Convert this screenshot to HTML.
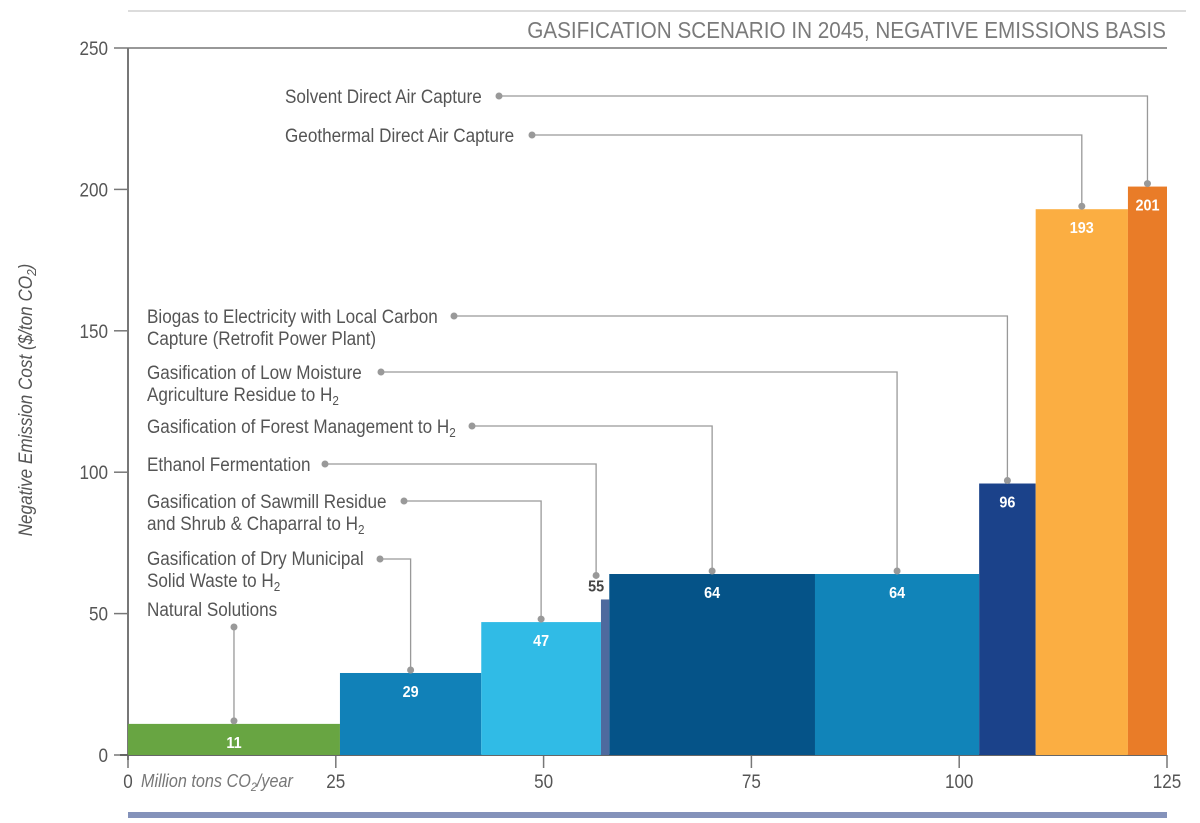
<!DOCTYPE html>
<html><head><meta charset="utf-8"><style>
html,body{margin:0;padding:0;background:#fff;}
svg text{font-family:"Liberation Sans Narrow","Liberation Sans",sans-serif;}
</style></head><body>
<svg id="chart" width="1200" height="818" xmlns="http://www.w3.org/2000/svg">
<line x1="128" y1="11" x2="1186" y2="11" stroke="#d0d0d0" stroke-width="1.5"/>
<text x="1166" y="38" text-anchor="end" font-size="23" fill="#7a7a7a">GASIFICATION SCENARIO IN 2045, NEGATIVE EMISSIONS BASIS</text>
<text transform="translate(32,400) rotate(-90)" text-anchor="middle" font-size="19" font-style="italic" fill="#555">Negative Emission Cost ($/ton CO<tspan font-size="13" dy="4">2</tspan><tspan dy="-4">)</tspan></text>
<g id="axes"></g>
<g id="bars"></g>
<g id="leaders"></g>
<g id="labels" font-size="19" fill="#555">
<text x="285" y="103">Solvent Direct Air Capture</text>
<text x="285" y="142">Geothermal Direct Air Capture</text>
<text x="147" y="323">Biogas to Electricity with Local Carbon</text>
<text x="147" y="345">Capture (Retrofit Power Plant)</text>
<text x="147" y="379">Gasification of Low Moisture</text>
<text x="147" y="401">Agriculture Residue to H<tspan font-size="13" dy="4">2</tspan></text>
<text x="147" y="433">Gasification of Forest Management to H<tspan font-size="13" dy="4">2</tspan></text>
<text x="147" y="471">Ethanol Fermentation</text>
<text x="147" y="508">Gasification of Sawmill Residue</text>
<text x="147" y="530">and Shrub &amp; Chaparral to H<tspan font-size="13" dy="4">2</tspan></text>
<text x="147" y="565">Gasification of Dry Municipal</text>
<text x="147" y="587">Solid Waste to H<tspan font-size="13" dy="4">2</tspan></text>
<text x="147" y="616">Natural Solutions</text>
</g>
<text x="141" y="787" font-size="18" font-style="italic" fill="#777">Million tons CO<tspan font-size="12" dy="4">2</tspan><tspan dy="-4">/year</tspan></text>
<rect x="128" y="812" width="1039" height="6" fill="#8492ba"/>
</svg>
<script>
const categories=["Natural Solutions","Dry MSW","Sawmill Residue","Ethanol","Forest Management","Low Moisture Ag","Biogas","Geothermal DAC","Solvent DAC"];
const capacities=[25.5,17,14.4,1,24.75,19.75,6.8,11.1,4.7];
const costs=[11,29,47,55,64,64,96,193,201];
const colors=["#68a542","#1181b8","#30bbe6","#4e6a9e","#055388","#1184b9","#1b428a","#fbae42","#e97c28"];
const labelAnchors=[627,559,501,464,426,372,316,135,96];
const labelDotX=[233,380,404,325,472,381,454,532,499];
const yTicks=[0,50,100,150,200,250];
const xTicks=[0,25,50,75,100,125];
const NS="http://www.w3.org/2000/svg";
const X=v=>128+v*(1039/125);
const Y=v=>755-v*(707/250);
function mk(t,a,p){const e=document.createElementNS(NS,t);for(const k in a)e.setAttribute(k,a[k]);p.appendChild(e);return e;}
const axes=document.getElementById('axes'),bars=document.getElementById('bars'),lead=document.getElementById('leaders');
mk('line',{x1:128,y1:48,x2:1167,y2:48,stroke:'#777','stroke-width':1.5},axes);
mk('line',{x1:128,y1:48,x2:128,y2:760,stroke:'#777','stroke-width':2},axes);
yTicks.forEach(t=>{mk('line',{x1:114,y1:Y(t),x2:128,y2:Y(t),stroke:'#777','stroke-width':1.5},axes);
const tx=mk('text',{x:108,y:Y(t)+7,'text-anchor':'end','font-size':19,fill:'#555'},axes);tx.textContent=t;

});
xTicks.forEach(t=>{mk('line',{x1:X(t),y1:755,x2:X(t),y2:768,stroke:'#777','stroke-width':1.5},axes);
const tx=mk('text',{x:X(t),y:788,'text-anchor':'middle','font-size':19,fill:'#555'},axes);tx.textContent=t;

});
let cum=0;
costs.forEach((c,i)=>{
const x0=X(cum),x1=X(cum+capacities[i]);cum+=capacities[i];
const r=mk('rect',{x:x0,y:Y(c),width:x1-x0,height:755-Y(c),fill:colors[i]},bars);


const cx=(x0+x1)/2;
const narrow=(x1-x0)<20;
const t=mk('text',{x:narrow?cx-9:cx,y:narrow?Y(c)-8:Y(c)+24,'text-anchor':'middle','font-size':16,'font-weight':'bold',fill:narrow?'#444':'#fff'},bars);
t.textContent=c;


const dx=narrow?cx-9:cx, dy=Y(c)-(narrow?24:3);
const ly=labelAnchors[i], lx=labelDotX[i];
const pts=(i===0)?`${dx},${ly} ${dx},${dy}`:`${lx},${ly} ${dx},${ly} ${dx},${dy}`;
const pl=mk('polyline',{points:pts,fill:'none',stroke:'#999','stroke-width':1.3},lead);


mk('circle',{cx:i===0?dx:lx,cy:ly,r:3.5,fill:'#999'},lead);
mk('circle',{cx:dx,cy:dy,r:3.5,fill:'#999'},lead);
});
mk('line',{x1:120,y1:755,x2:1167,y2:755,stroke:'#666','stroke-width':2},axes);
// condense text to mimic narrow font
document.querySelectorAll('svg text').forEach(t=>{
  const w=t.getComputedTextLength();
  if(w>0){t.setAttribute('textLength',(w*0.9).toFixed(1));t.setAttribute('lengthAdjust','spacingAndGlyphs');}
});
</script>
</body></html>
